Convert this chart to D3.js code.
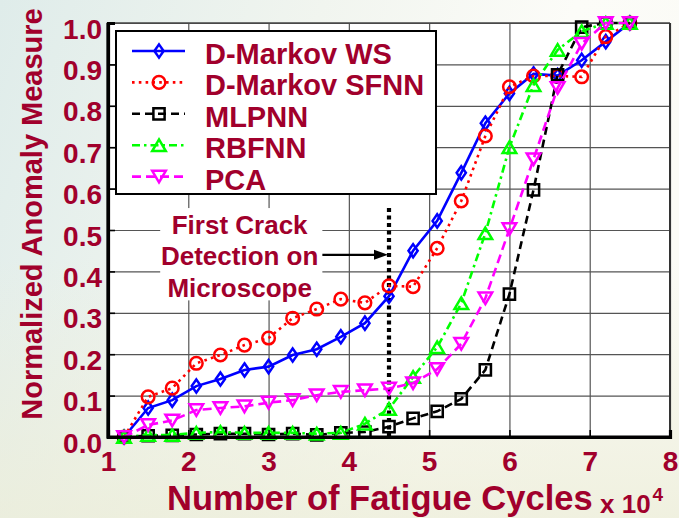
<!DOCTYPE html>
<html>
<head>
<meta charset="utf-8">
<script src="https://cdn.jsdelivr.net/npm/d3@7"></script>
<style>
  html, body { margin: 0; padding: 0; overflow: hidden; }
  svg { display: block; }
</style>
</head>
<body>
<svg id="chart" width="679" height="518"></svg>
<script>
// Fatigue cycles (x 10^4) at which each anomaly measure was evaluated
const cycles = [1.2, 1.5, 1.8, 2.1, 2.4, 2.7, 3.0, 3.3, 3.6, 3.9, 4.2, 4.5, 4.8, 5.1, 5.4, 5.7, 6.0, 6.3, 6.6, 6.9, 7.2, 7.5];

// Normalized anomaly measure per method
const dMarkovWS   = [0, 0.070, 0.089, 0.123, 0.140, 0.162, 0.170, 0.198, 0.212, 0.242, 0.275, 0.340, 0.450, 0.522, 0.638, 0.758, 0.830, 0.877, 0.873, 0.910, 0.955, 1.0];
const dMarkovSFNN = [0, 0.097, 0.118, 0.178, 0.198, 0.222, 0.239, 0.287, 0.309, 0.333, 0.324, 0.365, 0.363, 0.456, 0.570, 0.727, 0.846, 0.872, 0.872, 0.870, 0.967, 1.0];
const mlpnn       = [0, 0.003, 0.004, 0.006, 0.008, 0.008, 0.006, 0.008, 0.005, 0.010, 0.012, 0.025, 0.045, 0.062, 0.092, 0.162, 0.345, 0.597, 0.875, 0.990, 1.0, 1.0];
const rbfnn       = [0, 0.005, 0.005, 0.010, 0.012, 0.010, 0.010, 0.010, 0.008, 0.010, 0.032, 0.068, 0.145, 0.217, 0.323, 0.492, 0.700, 0.850, 0.935, 0.980, 1.0, 1.0];
const pca         = [0, 0.029, 0.040, 0.065, 0.070, 0.074, 0.083, 0.089, 0.101, 0.109, 0.113, 0.117, 0.130, 0.164, 0.225, 0.335, 0.502, 0.671, 0.843, 0.950, 1.0, 1.0];

const seriesNames = ["D-Markov WS", "D-Markov SFNN", "MLPNN", "RBFNN", "PCA"];

// Axis ticks
const xTicks = [1, 2, 3, 4, 5, 6, 7, 8];
const yTicks = [0, 0.1, 0.2, 0.3, 0.4, 0.5, 0.6, 0.7, 0.8, 0.9, 1.0];
const yTickLabels = ["0.0", "0.1", "0.2", "0.3", "0.4", "0.5", "0.6", "0.7", "0.8", "0.9", "1.0"];

// First crack observed under the microscope
const crackCycle = 4.5;
const annotationLines = ["First Crack", "Detection on", "Microscope"];

const TEXT = "#a1002c";
const FONT = "'Liberation Sans', Arial, Helvetica, sans-serif";

const svg = d3.select("#chart");
const W = 679, H = 518;
const plot = { left: 108, right: 670, top: 23, bottom: 437 };

const x = d3.scaleLinear().domain([1, 8]).range([plot.left, plot.right]);
const y = d3.scaleLinear().domain([0, 1]).range([plot.bottom, plot.top]);

// ---- background ----
const defs = svg.append("defs");
const bg = defs.append("linearGradient").attr("id", "bgGrad")
  .attr("x1", "0").attr("y1", "0").attr("x2", "1").attr("y2", "0.25");
bg.append("stop").attr("offset", "0").attr("stop-color", "#dfecea");
bg.append("stop").attr("offset", "0.45").attr("stop-color", "#f1f5ef");
bg.append("stop").attr("offset", "0.8").attr("stop-color", "#fcfcf8");
bg.append("stop").attr("offset", "1").attr("stop-color", "#fbfbf6");
const bg2 = defs.append("linearGradient").attr("id", "bgGrad2")
  .attr("x1", "0").attr("y1", "0").attr("x2", "0").attr("y2", "1");
bg2.append("stop").attr("offset", "0.5").attr("stop-color", "#ecedd8").attr("stop-opacity", 0);
bg2.append("stop").attr("offset", "1").attr("stop-color", "#ecedd8").attr("stop-opacity", 0.75);

svg.append("rect").attr("width", W).attr("height", H).attr("fill", "url(#bgGrad)");
svg.append("rect").attr("width", W).attr("height", H).attr("fill", "url(#bgGrad2)");

// plot area
svg.append("rect")
  .attr("x", plot.left).attr("y", plot.top)
  .attr("width", plot.right - plot.left).attr("height", plot.bottom - plot.top)
  .attr("fill", "#ffffff");

// ---- grid ----
const grid = svg.append("g").attr("class", "grid");
grid.append("g")
  .attr("transform", `translate(0,${plot.bottom})`)
  .call(d3.axisBottom(x).tickValues(xTicks).tickSize(-(plot.bottom - plot.top)).tickFormat(""))
  .call(g => g.select(".domain").remove())
  .call(g => g.selectAll("line").attr("stroke", "#555").attr("stroke-width", 1.2));
grid.append("g")
  .attr("transform", `translate(${plot.left},0)`)
  .call(d3.axisLeft(y).tickValues(yTicks).tickSize(-(plot.right - plot.left)).tickFormat(""))
  .call(g => g.select(".domain").remove())
  .call(g => g.selectAll("line").attr("stroke", "#555").attr("stroke-width", 1.2));

// top & right box edges
svg.append("line").attr("x1", plot.left).attr("x2", plot.right).attr("y1", plot.top).attr("y2", plot.top)
  .attr("stroke", "#444").attr("stroke-width", 1.5);
svg.append("line").attr("x1", plot.right).attr("x2", plot.right).attr("y1", plot.top).attr("y2", plot.bottom)
  .attr("stroke", "#333").attr("stroke-width", 2);

// ---- annotation: crack line, label, arrow ----
const ann = svg.append("g");
ann.append("line")
  .attr("x1", x(crackCycle)).attr("x2", x(crackCycle))
  .attr("y1", y(0)).attr("y2", y(0.555))
  .attr("stroke", "#000").attr("stroke-width", 4.2)
  .attr("stroke-dasharray", "4,3.5");

const labelCx = 2.64, labelTop = 0.553, labelBottom = 0.33;
ann.append("rect")
  .attr("x", x(1.65)).attr("y", y(labelTop))
  .attr("width", x(3.67) - x(1.65)).attr("height", y(labelBottom) - y(labelTop))
  .attr("fill", "#ffffff");
const labelBaselines = [0.49, 0.415, 0.338];
ann.selectAll("text.ann").data(annotationLines).join("text")
  .attr("class", "ann")
  .attr("x", x(labelCx)).attr("y", (d, i) => y(labelBaselines[i]))
  .attr("text-anchor", "middle")
  .attr("font-family", FONT).attr("font-weight", "bold").attr("font-size", 26)
  .attr("fill", TEXT)
  .text(d => d);

const arrowY = y(0.44);
const arrowStart = x(3.67), arrowTip = x(crackCycle) - 1;
ann.append("line")
  .attr("x1", arrowStart).attr("x2", arrowTip - 10)
  .attr("y1", arrowY).attr("y2", arrowY)
  .attr("stroke", "#000").attr("stroke-width", 2.2);
ann.append("path")
  .attr("d", `M${arrowTip},${arrowY} L${arrowTip - 14},${arrowY - 5} L${arrowTip - 14},${arrowY + 5} Z`)
  .attr("fill", "#000");

// ---- series ----
function markerPath(type, s) {
  const p = d3.path();
  if (type === "diamond") {
    const w = 4.6 * s, h = 6.6 * s;
    p.moveTo(0, -h); p.lineTo(w, 0); p.lineTo(0, h); p.lineTo(-w, 0); p.closePath();
  } else if (type === "circle") {
    const r = 6.3 * s;
    p.moveTo(r, 0); p.arc(0, 0, r, 0, 2 * Math.PI);
  } else if (type === "square") {
    const a = 5.6 * s;
    p.rect(-a, -a, 2 * a, 2 * a);
  } else if (type === "triangleUp") {
    const w = 6.8 * s, h = 5.8 * s;
    p.moveTo(0, -h); p.lineTo(w, h); p.lineTo(-w, h); p.closePath();
  } else if (type === "triangleDown") {
    const w = 6.8 * s, h = 5.8 * s;
    p.moveTo(0, h); p.lineTo(w, -h); p.lineTo(-w, -h); p.closePath();
  }
  return p.toString();
}

const series = [
  { name: seriesNames[0], values: dMarkovWS,   color: "#0000ff", dash: null,          marker: "diamond" },
  { name: seriesNames[1], values: dMarkovSFNN, color: "#ff0000", dash: "2.6,4.2",     marker: "circle" },
  { name: seriesNames[2], values: mlpnn,       color: "#000000", dash: "8,5",         marker: "square" },
  { name: seriesNames[3], values: rbfnn,       color: "#00ff00", dash: "8,4,2.5,4",   marker: "triangleUp" },
  { name: seriesNames[4], values: pca,         color: "#ff00ff", dash: "9,5",         marker: "triangleDown" }
];

const line = d3.line().x(d => x(d[0])).y(d => y(d[1]));

series.forEach(s => {
  const pts = cycles.map((c, i) => [c, s.values[i]]);
  const g = svg.append("g");
  g.append("path")
    .attr("d", line(pts))
    .attr("fill", "none")
    .attr("stroke", s.color).attr("stroke-width", 2.6)
    .attr("stroke-dasharray", s.dash);
  g.selectAll("path.m").data(pts).join("path")
    .attr("class", "m")
    .attr("transform", d => `translate(${x(d[0])},${y(d[1])})`)
    .attr("d", markerPath(s.marker, 1))
    .attr("fill", "none")
    .attr("stroke", s.color).attr("stroke-width", 2.5);
});

// ---- axes ----
const xAxis = svg.append("g")
  .attr("transform", `translate(0,${plot.bottom})`)
  .call(d3.axisBottom(x).tickValues(xTicks).tickSize(-7).tickPadding(0).tickFormat(d3.format("d")));
xAxis.select(".domain").attr("stroke", "#000").attr("stroke-width", 3.2);
xAxis.selectAll(".tick line").attr("stroke", "#000").attr("stroke-width", 1.6);
xAxis.selectAll(".tick text")
  .attr("y", 34).attr("dy", null)
  .attr("font-family", FONT).attr("font-weight", "bold").attr("font-size", 28)
  .attr("fill", TEXT);

const yAxis = svg.append("g")
  .attr("transform", `translate(${plot.left},0)`)
  .call(d3.axisLeft(y).tickValues(yTicks).tickSize(-7).tickPadding(0)
    .tickFormat((d, i) => yTickLabels[i]));
yAxis.select(".domain").attr("stroke", "#000").attr("stroke-width", 3.2);
yAxis.selectAll(".tick line").attr("stroke", "#000").attr("stroke-width", 1.6);
yAxis.selectAll(".tick text")
  .attr("x", -6).attr("dy", null).attr("y", 15)
  .attr("font-family", FONT).attr("font-weight", "bold").attr("font-size", 28)
  .attr("fill", TEXT);
// close the axes' sharp corners
svg.append("path")
  .attr("d", `M${plot.left},${plot.top} L${plot.left},${plot.bottom} L${plot.right},${plot.bottom}`)
  .attr("fill", "none").attr("stroke", "#000").attr("stroke-width", 3.2);

// ---- axis titles ----
svg.append("text")
  .attr("x", 167).attr("y", 510)
  .attr("text-anchor", "start")
  .attr("font-family", FONT).attr("font-weight", "bold").attr("font-size", 34.5)
  .attr("fill", TEXT)
  .text("Number of Fatigue Cycles");
const mult = svg.append("text")
  .attr("x", 600).attr("y", 513)
  .attr("font-family", FONT).attr("font-weight", "bold").attr("font-size", 26)
  .attr("fill", TEXT);
mult.append("tspan").text("x 10");
mult.append("tspan").attr("dy", -12).attr("font-size", 19).attr("dx", 2).text("4");

svg.append("text")
  .attr("transform", `translate(42,214) rotate(-90)`)
  .attr("text-anchor", "middle")
  .attr("font-family", FONT).attr("font-weight", "bold").attr("font-size", 29)
  .attr("fill", TEXT)
  .text("Normalized Anomaly Measure");

// ---- legend ----
const legend = svg.append("g");
legend.append("rect")
  .attr("x", 116).attr("y", 31).attr("width", 320).attr("height", 163)
  .attr("fill", "#ffffff").attr("stroke", "#000").attr("stroke-width", 2);
const rowY = i => 51 + i * 31.4;
series.forEach((s, i) => {
  const ly = rowY(i);
  legend.append("line")
    .attr("x1", 132).attr("x2", 185).attr("y1", ly).attr("y2", ly)
    .attr("stroke", s.color).attr("stroke-width", 2.6)
    .attr("stroke-dasharray", s.dash);
  legend.append("path")
    .attr("transform", `translate(159,${ly})`)
    .attr("d", markerPath(s.marker, 1))
    .attr("fill", "none").attr("stroke", s.color).attr("stroke-width", 2.5);
  legend.append("text")
    .attr("x", 205).attr("y", ly + 13)
    .attr("font-family", FONT).attr("font-weight", "bold").attr("font-size", 29)
    .attr("fill", TEXT)
    .text(s.name);
});
</script>
</body>
</html>
